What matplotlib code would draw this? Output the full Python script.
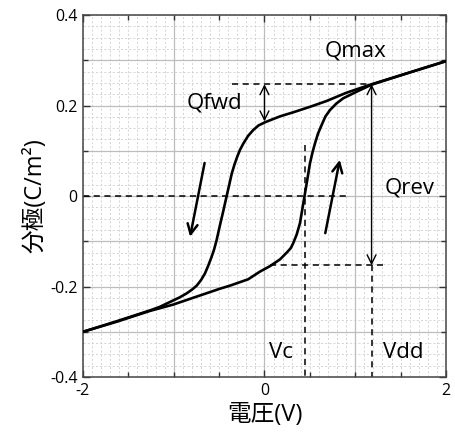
import matplotlib
matplotlib.use("Agg")
import matplotlib.pyplot as plt
import numpy as np

plt.rcParams['font.family'] = ['Open Sans', 'Noto Sans CJK JP', 'DejaVu Sans']
plt.rcParams['axes.unicode_minus'] = False

# Descending sweep (upper branch), from +2 V to -2 V
v_down = [2.0, 1.6, 1.18, 0.90, 0.685, 0.50, 0.317, 0.171, 0.006, -0.065, -0.123, -0.18, -0.233,
          -0.27, -0.30, -0.33, -0.36, -0.41, -0.455, -0.49, -0.527, -0.555, -0.582, -0.62, -0.656,
          -0.70, -0.747, -0.80, -0.857, -0.935, -1.155, -1.265, -1.633, -2.0]
p_down = [0.298, 0.273, 0.247, 0.228, 0.210, 0.197, 0.185, 0.176, 0.163, 0.156, 0.146, 0.133, 0.116,
          0.102, 0.087, 0.070, 0.050, 0.006, -0.034, -0.064, -0.097, -0.118, -0.134, -0.154, -0.171,
          -0.186, -0.198, -0.207, -0.215, -0.224, -0.245, -0.253, -0.277, -0.300]
# Ascending sweep (lower branch), from -2 V to +2 V
v_up = [-2.0, -1.633, -1.265, -1.008, -0.788, -0.494, -0.38, -0.18, -0.05, 0.06, 0.171, 0.25, 0.29,
        0.317, 0.355, 0.391, 0.428, 0.465, 0.501, 0.53, 0.556, 0.59, 0.630, 0.672, 0.722, 0.79,
        0.868, 1.052, 1.18, 1.6, 2.0]
p_up = [-0.300, -0.278, -0.254, -0.240, -0.225, -0.205, -0.198, -0.184, -0.167, -0.155, -0.140, -0.124, -0.115,
        -0.104, -0.085, -0.060, -0.016, 0.028, 0.072, 0.097, 0.116, 0.138, 0.157, 0.176, 0.190, 0.204,
        0.216, 0.234, 0.246, 0.273, 0.298]

Vc = 0.45
Vdd = 1.18
Qmax = 0.247
Qfwd_low = 0.165
Qrev_low = -0.153

xticks = [-2, 0, 2]
yticks = [-0.4, -0.2, 0, 0.2, 0.4]
ytick_labels = ['-0.4', '-0.2', '0', '0.2', '0.4']

fig = plt.figure(figsize=(4.56, 4.41), dpi=100)
ax = fig.add_axes([0.182, 0.145, 0.796, 0.821])
ax.set_xlim(-2, 2)
ax.set_ylim(-0.4, 0.4)

# minor dashed grid
for x in np.arange(-2, 2.0001, 0.1):
    ax.axvline(x, color='#cfcfcf', lw=0.6, ls=(0, (2.5, 2.5)), zorder=0)
for y in np.arange(-0.4, 0.4001, 0.025):
    ax.axhline(y, color='#cfcfcf', lw=0.6, ls=(0, (2.5, 2.5)), zorder=0)
# major grid
for x in [-1, 0, 1]:
    ax.axvline(x, color='#bdbdbd', lw=0.9, zorder=0.5)
for y in np.arange(-0.3, 0.3001, 0.1):
    ax.axhline(y, color='#bdbdbd', lw=0.9, zorder=0.5)

ax.plot(v_down, p_down, color='black', lw=1.9, zorder=3, solid_joinstyle='round')
ax.plot(v_up, p_up, color='black', lw=1.9, zorder=3, solid_joinstyle='round')

dash = (0, (4, 3))
ax.plot([-2, 0.9], [0, 0], color='black', lw=1.1, ls=dash, zorder=2)
ax.plot([-0.36, Vdd], [Qmax, Qmax], color='black', lw=1.1, ls=dash, zorder=2)
ax.plot([0.06, 1.31], [Qrev_low, Qrev_low], color='black', lw=1.1, ls=dash, zorder=2)
ax.plot([Vc, Vc], [0.113, -0.4], color='black', lw=1.1, ls=dash, zorder=2)
ax.plot([Vdd, Vdd], [Qrev_low, -0.4], color='black', lw=1.1, ls=dash, zorder=2)

ap = dict(arrowstyle='<->', lw=1.0, color='black', shrinkA=0, shrinkB=0, mutation_scale=16)
ax.annotate('', xy=(0, Qfwd_low), xytext=(0, Qmax), arrowprops=ap, zorder=4)
ax.annotate('', xy=(Vdd, Qrev_low), xytext=(Vdd, Qmax), arrowprops=ap, zorder=4)

ap2 = dict(arrowstyle='->', lw=1.8, color='black', shrinkA=0, shrinkB=0, mutation_scale=18)
ax.annotate('', xy=(-0.82, -0.09), xytext=(-0.66, 0.073), arrowprops=ap2, zorder=4)
ax.annotate('', xy=(0.83, 0.08), xytext=(0.67, -0.082), arrowprops=ap2, zorder=4)

tk = dict(fontsize=16, ha='center', va='center', zorder=5)
ax.text(1.0, 0.32, 'Qmax', **tk)
ax.text(-0.55, 0.205, 'Qfwd', **tk)
ax.text(1.6, 0.017, 'Qrev', **tk)
ax.text(0.18, -0.345, 'Vc', **tk)
ax.text(1.53, -0.345, 'Vdd', **tk)

ax.set_xticks(xticks)
ax.set_xticks(np.arange(-2, 2.01, 0.5), minor=True)
ax.set_yticks(yticks)
ax.set_yticklabels(ytick_labels)
ax.set_yticks(np.arange(-0.4, 0.401, 0.1), minor=True)
ax.tick_params(which='both', direction='in', top=True, right=True, labelsize=11.5, color='#333333')
ax.tick_params(which='major', length=5, width=1, pad=4)
ax.tick_params(which='minor', length=3.5, width=1)
for s in ax.spines.values():
    s.set_color('#444444')
    s.set_linewidth(1.1)

ax.set_xlabel('電圧(V)', fontsize=17, labelpad=3)
ax.set_ylabel('分極(C/m²)', fontsize=17, labelpad=2)

fig.savefig('out.png', dpi=100)
